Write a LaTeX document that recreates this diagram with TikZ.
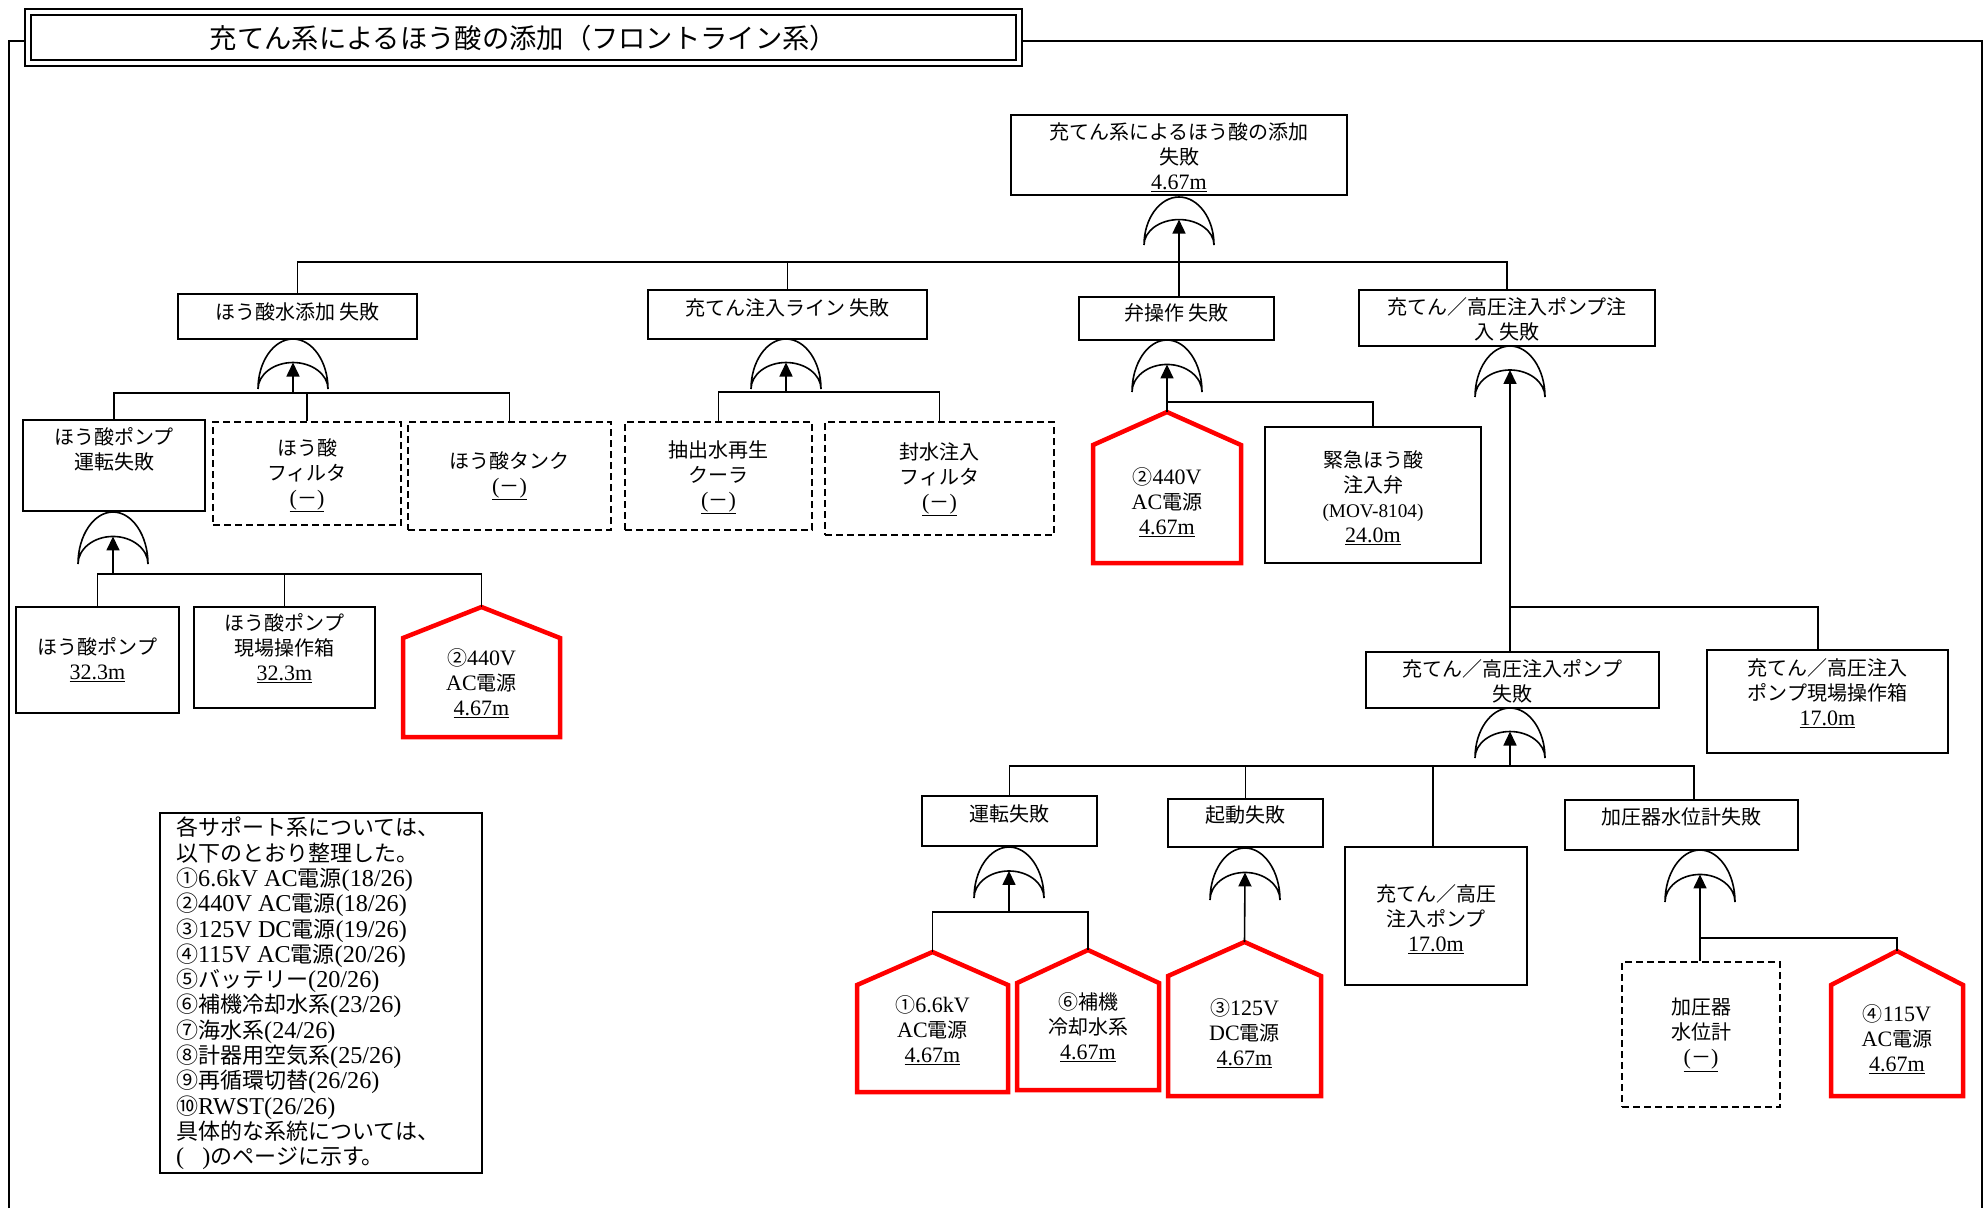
\documentclass[tikz,border=0pt]{standalone}
\usepackage{fontspec}
\setmainfont{Noto Sans CJK JP}
\newfontfamily\latf[Scale=1.1]{Liberation Serif}
\usetikzlibrary{arrows.meta}
\newcommand\LL[1]{{\latf #1}}
\newcommand\U[1]{\underline{\LL{#1}}}
\newcommand\DSH{\underline{\LL{(}－\LL{)}}}
\tikzset{
  bx/.style={draw, line width=1.7pt, inner sep=0pt},
  dbx/.style={draw, line width=1.7pt, dash pattern=on 7pt off 4pt, inner sep=0pt},
  txt/.style={align=center, font=\fontsize{20}{25}\selectfont, inner sep=0pt},
  house/.style={draw=red, line width=4.5pt, line join=miter},
  wire/.style={line width=1.6pt},
  arr/.style={line width=1.6pt, -{Triangle[width=13pt,length=14pt]}},
  gate/.style={line width=1.6pt},
}
\newcommand\BX[8]{%
  \node[#1, minimum width={#5pt-#3pt}, minimum height={#6pt-#4pt}] (#2) at ({(#3+#5)/2},{(#4+#6)/2}) {};
  \node[txt] (#2t) at ({(#3+#5)/2},#7) {#8};
}
\newcommand\HS[8]{%
  \draw[house] (#2,#6) -- (#2,#5) -- ({(#2+#3)/2},#4) -- (#3,#5) -- (#3,#6) -- cycle;
  \coordinate (#1) at ({(#2+#3)/2},#4);
  \node[txt] (#1t) at ({(#2+#3)/2},#7) {#8};
}
\newcommand\GT[4]{%
  \pgfmathsetmacro\gateh{#4-#3}%
  \draw[gate] ({#2-35},#4) .. controls ({#2-35},{#4-0.55*\gateh}) and ({#2-19.25},#3) .. (#2,#3)
     .. controls ({#2+19.25},#3) and ({#2+35},{#4-0.55*\gateh}) .. ({#2+35},#4)
     .. controls ({#2+35},{#4-0.29*\gateh}) and ({#2+19.25},{#4-0.53*\gateh}) .. (#2,{#4-0.53*\gateh})
     .. controls ({#2-19.25},{#4-0.53*\gateh}) and ({#2-35},{#4-0.29*\gateh}) .. ({#2-35},#4);
  \coordinate (#1) at (#2,{#4-0.53*\gateh});
}
\begin{document}
\begin{tikzpicture}[x=1pt,y=-1pt]
\path[use as bounding box, fill=white] (0,0) rectangle (1988,1208);

% title and frame
\node[draw, line width=2.6pt, minimum width=997pt, minimum height=57pt, inner sep=0pt] (title) at (523.5,37.5) {};
\node[draw, line width=1.2pt, minimum width=985pt, minimum height=45pt, inner sep=0pt] (titlein) at (523.5,37.5) {};
\node[font=\fontsize{27.3}{30}\selectfont, inner sep=0pt] (titlet) at (523.5,38) {充てん系によるほう酸の添加（フロントライン系）};
\coordinate (fbl) at (9,1208);
\coordinate (fbr) at (1982,1208);
\draw[wire] (fbl) -- (9,41) -- (title.west |- 9,41);
\draw[wire] (title.east |- 1982,41) -- (1982,41) -- (fbr);

% boxes
\BX{bx}{a}{1011}{115}{1347}{195}{157}{充てん系によるほう酸の添加\\失敗\\\U{4.67m}}
\BX{bx}{b1}{178}{294}{417}{339}{312}{ほう酸水添加 失敗}
\BX{bx}{b2}{648}{290}{927}{339}{308}{充てん注入ライン 失敗}
\BX{bx}{b3}{1079}{297}{1274}{340}{313}{弁操作 失敗}
\BX{bx}{b4}{1359}{290}{1655}{346}{319}{充てん／高圧注入ポンプ注\\入 失敗}
\BX{bx}{c1}{23}{420}{205}{511}{449}{ほう酸ポンプ\\運転失敗}
\BX{dbx}{c2}{213}{422}{401}{525}{475}{ほう酸\\フィルタ\\\DSH}
\BX{dbx}{c3}{408}{422}{611}{530}{476}{ほう酸タンク\\\DSH}
\BX{dbx}{c4}{625}{422}{812}{530}{477}{抽出水再生\\クーラ\\\DSH}
\BX{dbx}{c5}{825}{422}{1054}{535}{479}{封水注入\\フィルタ\\\DSH}
\HS{c6}{1093}{1241}{412}{445}{563}{502}{②\LL{440V}\\\LL{AC}電源\\\U{4.67m}}
\BX{bx}{c7}{1265}{427}{1481}{563}{498}{緊急ほう酸\\注入弁\\{\fontsize{17.5}{21}\selectfont\LL{(MOV-8104)}}\\\U{24.0m}}
\BX{bx}{d1}{1366}{652}{1659}{708}{681}{充てん／高圧注入ポンプ\\失敗}
\BX{bx}{d2}{1707}{650}{1948}{753}{693}{充てん／高圧注入\\ポンプ現場操作箱\\\U{17.0m}}
\BX{bx}{e1}{922}{796}{1097}{846}{814}{運転失敗}
\BX{bx}{e2}{1168}{799}{1323}{847}{815}{起動失敗}
\BX{bx}{e3}{1345}{847}{1527}{985}{919}{充てん／高圧\\注入ポンプ\\\U{17.0m}}
\BX{bx}{e4}{1565}{800}{1798}{850}{817}{加圧器水位計失敗}
\HS{f1}{857}{1008}{952}{985}{1092}{1030}{①\LL{6.6kV}\\\LL{AC}電源\\\U{4.67m}}
\HS{f2}{1017}{1159}{950}{983}{1090}{1027}{⑥補機\\冷却水系\\\U{4.67m}}
\HS{f3}{1168}{1321}{942}{976}{1096}{1033}{③\LL{125V}\\\LL{DC}電源\\\U{4.67m}}
\BX{dbx}{f4}{1622}{962}{1780}{1107}{1035}{加圧器\\水位計\\\DSH}
\HS{f5}{1831}{1963}{951}{985}{1096}{1039}{④\LL{115V}\\\LL{AC}電源\\\U{4.67m}}
\BX{bx}{h1}{16}{607}{179}{713}{660}{ほう酸ポンプ\\\U{32.3m}}
\BX{bx}{h2}{194}{607}{375}{708}{648}{ほう酸ポンプ\\現場操作箱\\\U{32.3m}}
\HS{h3}{403}{560}{607}{638}{737}{683}{②\LL{440V}\\\LL{AC}電源\\\U{4.67m}}

% legend
\node[bx, minimum width=322pt, minimum height=360pt] (note) at (321,993) {};
\node[anchor=west, align=left, font=\fontsize{22}{25.3}\selectfont, inner sep=0pt] (notet) at (176,993.5) {%
各サポート系については、\\
以下のとおり整理した。\\
①\LL{6.6kV AC}電源\LL{(18/26)}\\
②\LL{440V AC}電源\LL{(18/26)}\\
③\LL{125V DC}電源\LL{(19/26)}\\
④\LL{115V AC}電源\LL{(20/26)}\\
⑤バッテリー\LL{(20/26)}\\
⑥補機冷却水系\LL{(23/26)}\\
⑦海水系\LL{(24/26)}\\
⑧計器用空気系\LL{(25/26)}\\
⑨再循環切替\LL{(26/26)}\\
⑩\LL{RWST(26/26)}\\
具体的な系統については、\\
\LL{(\ \ \ )}のページに示す。};

% gates
\GT{gA}{1179}{197}{245}
\GT{gB1}{293}{339}{389}
\GT{gB2}{786}{339}{389}
\GT{gB3}{1167}{340}{392}
\GT{gB4}{1510}{346}{397}
\GT{gC1}{113}{512}{564}
\GT{gD1}{1510}{708}{758}
\GT{gE1}{1009}{847}{898}
\GT{gE2}{1245}{848}{900}
\GT{gE4}{1700}{850}{902}

% connectors: top level
\coordinate (barA) at (0,262);
\draw[arr] (b3.north -| gA) -- (gA);
\draw[wire] (b1.north) -- (b1.north |- barA) -- (b4.north |- barA) -- (b4.north);
\draw[wire] (b2.north) -- (b2.north |- barA);

% under b1
\coordinate (barB1) at (0,393);
\draw[arr] (gB1 |- barB1) -- (gB1);
\draw[wire] (c1.north) -- (c1.north |- barB1) -- (c3.north |- barB1) -- (c3.north);
\draw[wire] (c2.north) -- (c2.north |- barB1);

% under b2
\coordinate (barB2) at (0,392);
\draw[arr] (gB2 |- barB2) -- (gB2);
\draw[wire] (c4.north) -- (c4.north |- barB2) -- (c5.north |- barB2) -- (c5.north);

% under b3
\coordinate (barB3) at (0,402);
\draw[arr] (c6) -- (gB3);
\draw[wire] (c6 |- barB3) -- (c7.north |- barB3) -- (c7.north);

% under b4
\coordinate (barB4) at (1818,607);
\draw[arr] (d1.north -| gB4) -- (gB4);
\draw[wire] (gB4 |- barB4) -- (barB4) -- (barB4 |- d2.north);

% under c1
\coordinate (barC1) at (0,574);
\draw[arr] (gC1 |- barC1) -- (gC1);
\draw[wire] (h1.north) -- (h1.north |- barC1) -- (h3 |- barC1) -- (h3);
\draw[wire] (h2.north) -- (h2.north |- barC1);

% under d1
\coordinate (barD1) at (0,766);
\coordinate (e3in) at (1433,847);
\coordinate (e4in) at (1694,800);
\draw[arr] (gD1 |- barD1) -- (gD1);
\draw[wire] (e1.north) -- (e1.north |- barD1) -- (e4in |- barD1) -- (e4in);
\draw[wire] (e2.north) -- (e2.north |- barD1);
\draw[wire] (e3in) -- (e3in |- barD1);

% under e1
\coordinate (barE1) at (0,912);
\draw[arr] (gE1 |- barE1) -- (gE1);
\draw[wire] (f1) -- (f1 |- barE1) -- (f2 |- barE1) -- (f2);

% under e2
\draw[arr] (f3) -- (gE2);

% under e4
\coordinate (barE4) at (0,938);
\draw[arr] (f4.north -| gE4) -- (gE4);
\draw[wire] (gE4 |- barE4) -- (f5 |- barE4) -- (f5);
\end{tikzpicture}
\end{document}
